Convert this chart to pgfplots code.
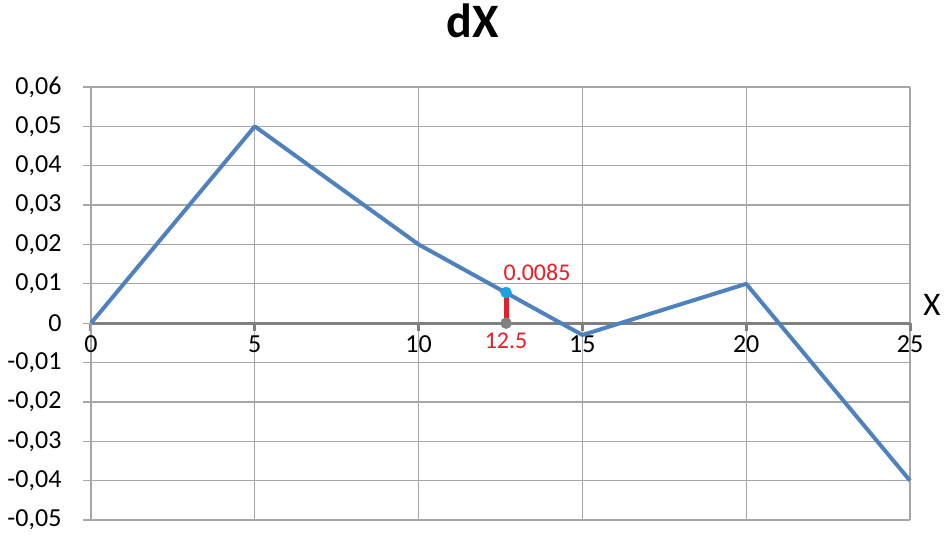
\documentclass[border=0pt]{standalone}
\usepackage{pgfplots}
\pgfplotsset{compat=1.18}
\usepackage{fontspec}
\setmainfont{Carlito}
\definecolor{exblue}{HTML}{4F81BD}
\definecolor{exred}{HTML}{ED1C24}
\definecolor{excyan}{HTML}{1BA1E2}
\definecolor{exgrid}{HTML}{A6A6A6}
\definecolor{exaxis}{HTML}{808080}
\begin{document}
\begin{tikzpicture}
\useasboundingbox (-91pt,-15pt) rectangle (855pt,520pt);
\begin{axis}[
  scale only axis,
  width=819pt, height=433pt,
  xmin=0, xmax=25, ymin=-0.05, ymax=0.06,
  axis x line=middle,
  axis y line=left,
  axis line style={-},
  x axis line style={exaxis, line width=3pt},
  y axis line style={exgrid, line width=1.2pt},
  xtick={0,5,10,15,20,25},
  ytick={-0.05,-0.04,-0.03,-0.02,-0.01,0,0.01,0.02,0.03,0.04,0.05,0.06},
  yticklabels={-0{,}05,-0{,}04,-0{,}03,-0{,}02,-0{,}01,0,0{,}01,0{,}02,0{,}03,0{,}04,0{,}05,0{,}06},
  xticklabels={0,5,10,15,20,25},
  scaled y ticks=false,
  scaled x ticks=false,
  hide obscured x ticks=false,
  hide obscured y ticks=false,
  grid=major,
  major grid style={exgrid, line width=1.2pt},
  ytick style={exgrid, line width=1.2pt},
  xtick style={exaxis, line width=3pt},
  tick align=outside,
  major tick length=8pt,
  ticklabel style={font=\fontsize{26}{30}\selectfont, text=black},
  yticklabel style={xshift=-18pt},
  xticklabel style={yshift=-1pt},
  clip=false,
  title={\bfseries dX},
  title style={font=\fontsize{48}{54}\selectfont\bfseries, at={(axis description cs:0.4664,1.1386)}, anchor=center},
]
\addplot[exblue, line width=4pt, line join=round] coordinates {
  (0,0) (5,0.05) (10,0.02) (15,-0.003) (20,0.01) (25,-0.04)
};
\addplot[exred, line width=5pt] coordinates {(12.67,0) (12.67,0.0078)};
\addplot[only marks, mark=*, mark size=5.5pt, exaxis] coordinates {(12.67,0)};
\addplot[only marks, mark=*, mark size=5.5pt, excyan] coordinates {(12.67,0.0078)};
\node[anchor=south west, text=exred, font=\fontsize{24}{28}\selectfont, xshift=-6pt, yshift=8pt] at (axis cs:12.67,0.0078) {0.0085};
\node[anchor=north, text=exred, font=\fontsize{24}{28}\selectfont, yshift=-6pt] at (axis cs:12.67,0) {12.5};
\node[font=\fontsize{33}{38}\selectfont, anchor=center, xshift=22pt, yshift=18pt] at (axis cs:25,0) {X};
\end{axis}
\end{tikzpicture}
\end{document}
